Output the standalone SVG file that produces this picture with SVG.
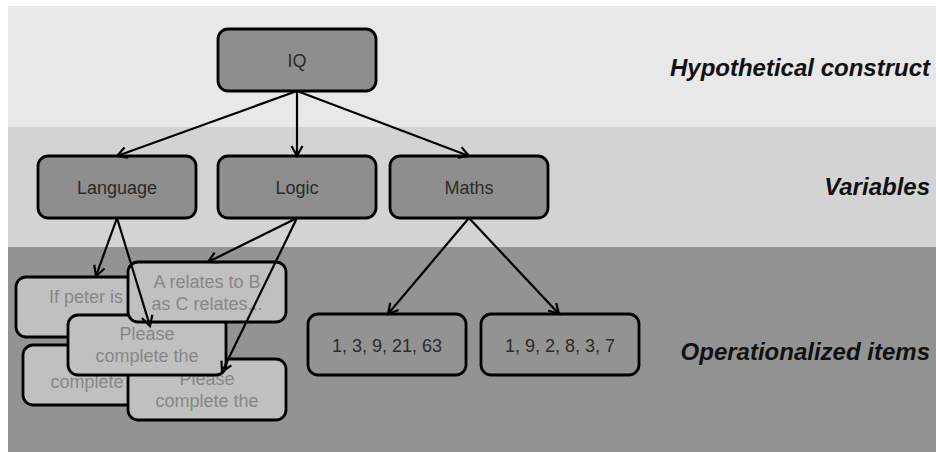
<svg xmlns="http://www.w3.org/2000/svg" width="936" height="452" viewBox="0 0 936 452">
  <style>
    .band-top { fill: #e8e8e8; }
    .band-mid { fill: #d3d3d3; }
    .band-low { fill: #939393; }
    .node rect { fill: #8e8e8e; stroke: #000; stroke-width: 2.8; }
    .item rect { fill: #939393; stroke: #000; stroke-width: 2.8; }
    .q rect { fill: #c0c0c0; stroke: #000; stroke-width: 2.8; }
    .node text, .item text { font-family: "Liberation Sans", Arial, sans-serif; font-size: 18px; fill: #2b2b2b; text-anchor: middle; }
    .q text { font-family: "Liberation Sans", Arial, sans-serif; font-size: 18px; fill: #878787; text-anchor: middle; }
    .level { font-family: "Liberation Sans", Arial, sans-serif; font-size: 24px; font-weight: bold; font-style: italic; fill: #111; text-anchor: end; }
    .conn line { stroke: #000; stroke-width: 2.2; marker-end: url(#head); }
  </style>
  <defs>
    <marker id="head" markerUnits="userSpaceOnUse" markerWidth="16" markerHeight="16" viewBox="-12 -8 14 16" refX="0" refY="0" orient="auto">
      <path d="M-10,-5.5 L0,0 L-10,5.5" fill="none" stroke="#000" stroke-width="2.2" stroke-linejoin="miter"/>
    </marker>
  </defs>

  <!-- level bands -->
  <rect class="band-top" x="8" y="6" width="928" height="121"/>
  <rect class="band-mid" x="8" y="127" width="928" height="120"/>
  <rect class="band-low" x="8" y="247" width="928" height="205"/>

  <!-- level labels -->
  <text class="level" x="930" y="76">Hypothetical construct</text>
  <text class="level" x="930" y="195">Variables</text>
  <text class="level" x="930" y="360">Operationalized items</text>

  <!-- construct -->
  <g id="iq" class="node">
    <rect x="218" y="29" width="158" height="62" rx="10"/>
    <text x="297" y="67">IQ</text>
  </g>

  <!-- variables -->
  <g id="language" class="node">
    <rect x="38" y="156" width="158" height="62" rx="10"/>
    <text x="117" y="194">Language</text>
  </g>
  <g id="logic" class="node">
    <rect x="218" y="156" width="158" height="62" rx="10"/>
    <text x="297" y="194">Logic</text>
  </g>
  <g id="maths" class="node">
    <rect x="390" y="156" width="158" height="62" rx="10"/>
    <text x="469" y="194">Maths</text>
  </g>

  <!-- stacked question items (back to front) -->
  <g id="q-peter" class="q">
    <rect x="16" y="277" width="158" height="60" rx="10"/>
    <text x="49" y="303" style="text-anchor:start">If peter is</text>
  </g>
  <g id="q-complete-3" class="q">
    <rect x="23" y="345" width="158" height="60" rx="10"/>
    <text x="102" y="388">complete the</text>
  </g>
  <g id="q-complete-2" class="q">
    <rect x="128" y="359" width="158" height="61" rx="10"/>
    <text x="207" y="385">Please</text>
    <text x="207" y="407">complete the</text>
  </g>
  <g id="q-complete-1" class="q">
    <rect x="68" y="315" width="158" height="60" rx="10"/>
    <text x="147" y="340">Please</text>
    <text x="147" y="362">complete the</text>
  </g>
  <g id="q-relates" class="q">
    <rect x="128" y="262" width="158" height="60" rx="10"/>
    <text x="207" y="288">A relates to B</text>
    <text x="207" y="310">as C relates...</text>
  </g>

  <!-- number series items -->
  <g id="series-1" class="item">
    <rect x="308" y="314" width="158" height="61" rx="10"/>
    <text x="387" y="352">1, 3, 9, 21, 63</text>
  </g>
  <g id="series-2" class="item">
    <rect x="481" y="314" width="158" height="61" rx="10"/>
    <text x="560" y="352">1, 9, 2, 8, 3, 7</text>
  </g>

  <!-- connectors -->
  <g id="connectors" class="conn">
    <line x1="297" y1="91" x2="117" y2="156"/>
    <line x1="297" y1="91" x2="297" y2="156"/>
    <line x1="297" y1="91" x2="469" y2="156"/>
    <line x1="117" y1="218" x2="96" y2="276"/>
    <line x1="117" y1="218" x2="150" y2="326"/>
    <line x1="297" y1="218" x2="208" y2="262"/>
    <line x1="297" y1="218" x2="222" y2="372"/>
    <line x1="469" y1="218" x2="388" y2="314"/>
    <line x1="469" y1="218" x2="559" y2="314"/>
  </g>
</svg>
